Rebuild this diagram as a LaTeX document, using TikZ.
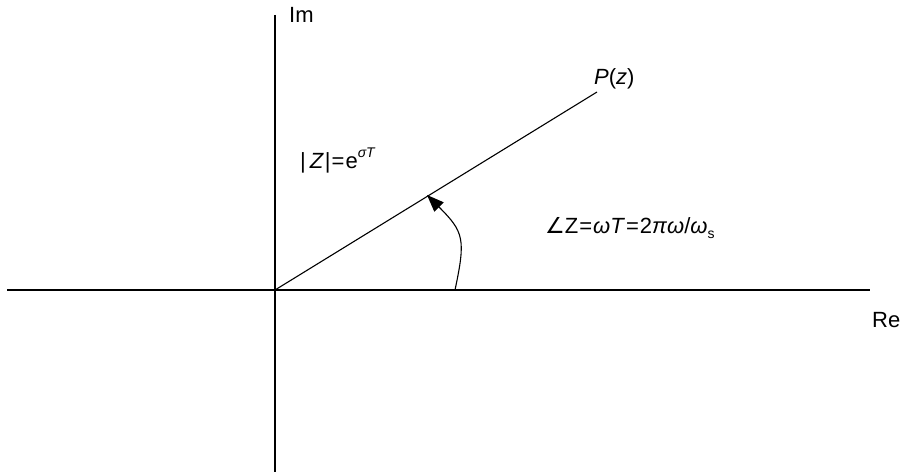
\documentclass[tikz,border=0pt]{standalone}
\usepackage{fontspec}
\setmainfont{Liberation Sans}
\newfontfamily\symfont{DejaVu Sans}
\usetikzlibrary{arrows.meta}
\tikzset{
  axis/.style={line width=1.3pt},
  ray/.style={line width=1.1pt},
  lbl/.style={inner sep=0pt, font=\fontsize{22}{26}\selectfont},
}
\begin{document}
\begin{tikzpicture}[x=1pt,y=-1pt]
\useasboundingbox (0,0) rectangle (905,476);
\coordinate (O) at (275,290);
\coordinate (L) at (7,290);
\coordinate (R) at (870,290);
\coordinate (T) at (275,15);
\coordinate (B) at (275,472);
\coordinate (E) at (597,92);
\coordinate (A0) at (455,290);
\coordinate (A1) at (427,195);
\draw[axis] (L) -- (R);
\draw[axis] (T) -- (B);
\draw[ray] (O) -- (E);
\draw[ray,-{Triangle[length=17pt,width=13pt]}] (A0) to[out=78,in=-45,looseness=1.35] (A1);
\node[lbl,anchor=base west] (im) at (289,23) {Im};
\node[lbl,anchor=base west] (re) at (872,327) {Re};
\node[lbl,anchor=base west] (pz) at (594,85) {\textit{P}(\textit{z})};
\node[lbl,anchor=base west] (mod) at (300,168) {|\kern4pt\textit{Z}\kern1pt|\kern1pt=\kern1pt e\raisebox{0.5em}{\fontsize{14}{16}\selectfont\textit{σT}}};
\node[lbl,anchor=base west] (ang) at (545,233) {{\symfont ∠}Z\kern1pt=\kern1pt\textit{ω}\textit{T}\kern1pt=\kern1pt2\textit{π}\textit{ω}/\textit{ω}\raisebox{-0.25em}{\fontsize{14}{16}\selectfont s}};
\end{tikzpicture}
\end{document}
